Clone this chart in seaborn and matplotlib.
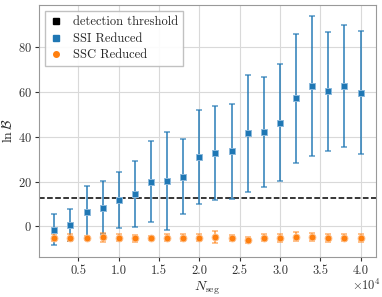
import numpy as np
import matplotlib
matplotlib.use("Agg")
import matplotlib.pyplot as plt
from matplotlib.lines import Line2D
from matplotlib.ticker import MultipleLocator, FuncFormatter
import seaborn as sns

# number of segments
n_seg = [2000, 4000, 6000, 8000, 10000, 12000, 14000, 16000, 18000, 20000,
         22000, 24000, 26000, 28000, 30000, 32000, 34000, 36000, 38000, 40000]

# SSI reduced: ln B and 1-sigma spread
ssi_mean = [-1.5, 0.6, 6.4, 8.4, 11.6, 14.5, 20.0, 20.4, 22.1, 31.0,
            32.8, 33.4, 41.5, 42.2, 46.3, 57.1, 62.6, 60.3, 62.5, 59.7]
ssi_err = [7.0, 7.3, 11.5, 12.0, 12.5, 14.6, 18.0, 21.8, 16.7, 20.8,
           21.0, 21.0, 26.2, 24.5, 26.0, 28.9, 31.0, 26.5, 27.3, 27.3]

# SSC reduced
ssc_mean = [-5.1, -5.0, -5.3, -4.8, -5.0, -5.3, -5.3, -5.1, -5.1, -5.0,
            -4.8, -5.1, -6.1, -5.0, -5.0, -4.6, -4.9, -5.0, -5.0, -5.0]
ssc_err = [1.5, 1.6, 0.8, 2.0, 1.5, 1.6, 0.8, 1.6, 1.5, 1.6,
           2.6, 1.2, 1.5, 1.6, 1.8, 2.0, 1.8, 1.8, 1.5, 1.8]

threshold = 12.5

BLUE = "#1f77b4"
ORANGE = "#ff7f0e"

sns.set_style("whitegrid")
plt.rcParams.update({
    "font.family": ["cmr10", "DejaVu Serif"],
    "mathtext.fontset": "cm",
    "axes.formatter.use_mathtext": True,
    "axes.unicode_minus": False,
    "font.size": 9,
    "xtick.labelsize": 9,
    "ytick.labelsize": 9,
    "xtick.bottom": True,
    "ytick.left": True,
    "xtick.major.size": 3,
    "ytick.major.size": 3,
    "xtick.major.pad": 2.5,
    "ytick.major.pad": 2,
    "xtick.color": "#333333",
    "ytick.color": "#333333",
    "axes.edgecolor": "#999999",
    "grid.color": "#d9d9d9",
})

fig = plt.figure(figsize=(3.82, 2.97), dpi=100)
ax = fig.add_axes([0.102, 0.135, 0.882, 0.848])

ax.axhline(threshold, color="black", ls="--", lw=1.1, zorder=1)

ax.errorbar(n_seg, ssi_mean, yerr=ssi_err, fmt="none", ecolor=BLUE,
            elinewidth=1.4, capsize=2.5, capthick=1.1, alpha=0.75, zorder=2)
ax.errorbar(n_seg, ssc_mean, yerr=ssc_err, fmt="none", ecolor=ORANGE,
            elinewidth=1.4, capsize=2.5, capthick=1.1, alpha=0.6, zorder=2)

sns.scatterplot(x=n_seg, y=ssi_mean, marker="s", s=22, color=BLUE,
                edgecolor="#8cb9dc", linewidth=0.7, ax=ax, zorder=3)
sns.scatterplot(x=n_seg, y=ssc_mean, marker="o", s=24, color=ORANGE,
                edgecolor="#fdc08d", linewidth=0.7, ax=ax, zorder=3)

ax.set_xlabel(r"$N_{\rm seg}$", fontsize=10, labelpad=2)
ax.set_ylabel(r"$\ln\mathcal{B}$", fontsize=10, labelpad=2)
ax.set_yticks([0, 20, 40, 60, 80])
ax.xaxis.set_major_locator(MultipleLocator(5000))
ax.xaxis.set_major_formatter(FuncFormatter(lambda v, p: f"{v / 1e4:.1f}"))
ax.text(1.015, -0.115, r"$\times10^{4}$", transform=ax.transAxes,
        ha="right", va="center", fontsize=9, color="#333333")

handles = [
    Line2D([], [], ls="none", marker="s", ms=4, color="black"),
    Line2D([], [], ls="none", marker="s", ms=4, color=BLUE),
    Line2D([], [], ls="none", marker="o", ms=4, color=ORANGE),
]
labels = ["detection threshold", "SSI Reduced", "SSC Reduced"]
leg = ax.legend(handles, labels, loc="upper left", fancybox=False,
                framealpha=0.9, edgecolor="#bbbbbb", fontsize=9,
                handlelength=1.0, borderpad=0.4, labelspacing=0.35)

fig.savefig("out.png", dpi=100)
